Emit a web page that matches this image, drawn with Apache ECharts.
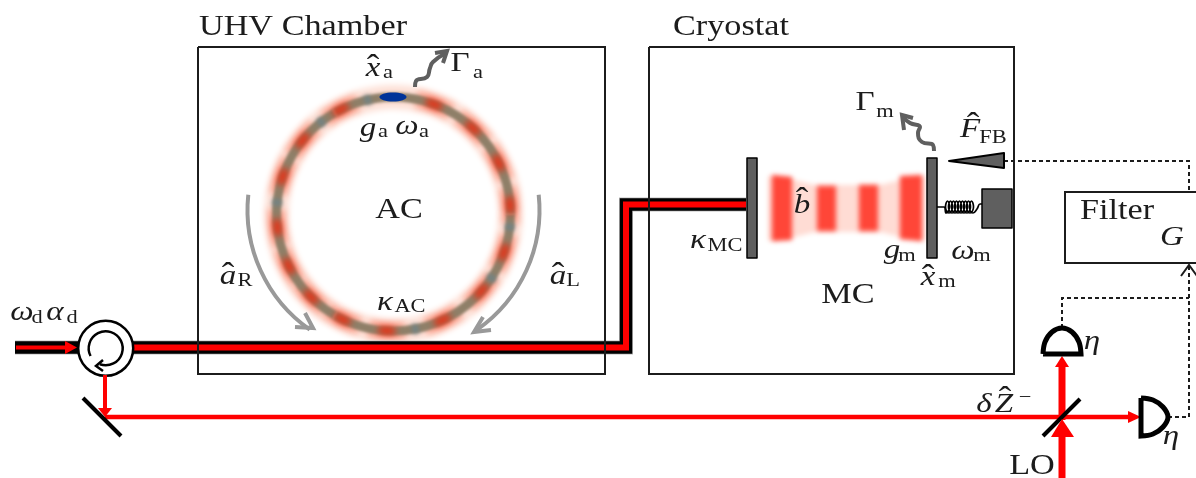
<!DOCTYPE html>
<html><head><meta charset="utf-8">
<style>html,body{margin:0;padding:0;background:#fff}#c{width:1196px;height:478px}</style>
<script src="https://cdn.jsdelivr.net/npm/echarts@6/dist/echarts.min.js"></script>
</head><body><div id="c"></div>
<script>
// ---- picture readings (x, y in picture pixels) ----
const ringCentre = [393.5, 214], ringRadius = 117;
const ringAntinodes = [[278,175],[302,140],[340,108],[433,107],[473,128],[498,163],[511,205],[503,252],[480,290],[441,317],[387,328],[343,318],[310,298],[285,268],[273,228]];
const ringNodes = [[273,202],[318,118],[367,97],[510,227],[490,277],[415,327]];
const chamberBox = [[198,47],[605,47],[605,374],[198,374],[198,47]];
const cryostatBox = [[649,47],[1014,47],[1014,374],[649,374],[649,47]];
const filterBox = [[1198,192],[1065,192],[1065,263],[1198,263]];
const wireIn = [[15,347.5],[80,347.5]];
const wireMain = [[130,347.5],[626,347.5],[626,204.5],[746,204.5]];
const beamIn = [[16,347.5],[68,347.5]];
const beamInHead = [[65,341],[77,347.5],[65,354]];
const beamDown = [[105,375],[105,408]];
const beamDownHead = [[98,408],[105,417],[112,408]];
const beamReturn = [[105,417],[1130,417]];
const beamReturnHead = [[1128,411],[1141,417],[1128,423]];
const beamLO = [[1062,478],[1062,430]];
const beamLOHead = [[1051,437],[1062,419],[1074,437],[1068,437],[1056,437]];
const beamUp = [[1062,420],[1062,365]];
const beamUpHead = [[1055,367],[1062,356],[1069,367]];
const mirrorFold = [[83,398],[121,436]];
const splitter = [[1043,436],[1080,399]];
const detectorTop = [[1043,354],[1045,342],[1052,332],[1062,328],[1072,332],[1079,342],[1081,354],[1043,354]];
const detectorRight = [[1141,398],[1153,400],[1163,407],[1168,417],[1163,427],[1153,434],[1141,436],[1141,398]];
const dashFeedback = [[1004,161],[1189,161],[1189,192]];
const dashTop = [[1062,328],[1062,298],[1189,298]];
const dashRight = [[1168,417],[1189,417],[1189,266]];
const filterArrow = [[1181,276],[1189,265],[1197,276]];
const travelCentre = [393.5, 210], travelRadius = 146;
const arcLeftDegrees = [125, 186];
const arcRightDegrees = [-6, 55];
const arcLeftHead = [[305,313],[313,328],[295,327]];
const arcRightHead = [[483,317],[474,332],[491,330]];
const waveA = [[415,87],[416,81],[427,77],[430,68],[433,62],[446,53]];
const waveAHead = [[435,53],[447,51],[443,63]];
const waveM = [[934,151],[933,145],[922,142],[918,133],[920,127],[910,123],[903,117]];
const waveMHead = [[913,118],[902,115],[904,130]];
const mirrorA = [[747,158],[757,158],[757,258],[747,258]];
const mirrorB = [[927,158],[937,158],[937,258],[927,258]];
const massBlock = [[982,189],[1012,189],[1012,228],[982,228]];
const feedbackWedge = [[949,161],[1004,153],[1004,168]];
const spring = [[937,207],[944,207],[946,213],[949.5,207],[947.5,201],[945.5,207],[949,213],[952.5,207],[950.5,201],[948.5,207],[952,213],[955.5,207],[953.5,201],[951.5,207],[955,213],[958.5,207],[956.5,201],[954.5,207],[958,213],[961.5,207],[959.5,201],[957.5,207],[961,213],[964.5,207],[962.5,201],[960.5,207],[964,213],[967.5,207],[965.5,201],[963.5,207],[967,213],[970.5,207],[968.5,201],[966.5,207],[970,213],[973.5,207],[971.5,201],[969.5,207],[973,213],[977,209],[980,204],[982,204]];
const fieldHalo = [[768,176],[795,180],[815,185],[880,185],[900,180],[925,176],[925,241],[900,237],[880,232],[815,232],[795,237],[768,241]];
const fieldBars = [[[772,175],[792,177],[792,240],[772,241]],[[817,186],[836,186],[836,231],[817,231]],[[859,185],[878,185],[878,231],[859,231]],[[900,176],[922,175],[922,241],[900,239]]];
const circulatorCentre = [105.7, 348.3];
const circulatorHead = [[103,360],[96,366],[103,371]];
const dipole = [393, 97];

const textRoman = [["UHV Chamber",303,27,29],["Cryostat",731,27,29],["AC",399,210,29],["MC",848,295,29],["Filter",1117,211,29],["LO",1032,466,29],["Γ",460,64,28],["Γ",865,103,28]];
const textItalic = [["x",373,69,28],["g",368,129,28],["ω",407,127,28],["κ",385,303,28],["a",228,277,28],["a",558,277,28],["κ",698,241,28],["b",802,206,28],["F",970,130,28],["g",892,251,28],["ω",963,252,28],["x",928,278,28],["ω",22,313,28],["α",55,313,28],["η",1092,342,28],["η",1171,437,28],["δ",984,405,28],["Z",1004,405,28],["G",1172,238,28]];
const textSub = [["a",388,73],["a",478,73],["a",383,132],["a",424,132],["AC",410,307],["R",245,281],["L",573,281],["MC",725,246],["m",885,112],["FB",993,138],["m",907,256],["m",982,256],["m",947,282],["d",37,318],["d",72,318],["−",1025,398]];
const textHat = [[373,55],[228,263],[558,263],[802,188],[973,113],[928,265],[1005,387]];

// ---- helpers ----
const ink = '#1c1c1c', red = '#ff0000', grey = '#999999', dark = '#5f5f5f';
const FAR = 3000;
const rad = d => d*Math.PI/180;
const series = [];
const add = s => { s.z = series.length + 2; series.push(s); };
function path(data, color, width, extra) {
  add(Object.assign({type:'line', data, symbol:'none', silent:true, animation:false, clip:false,
    lineStyle:{color, width, cap:'butt', join:'miter', type:(extra&&extra.dash)||'solid'}}, extra&&extra.smooth?{smooth:extra.smooth}:{}));
}
function poly(points, fill, stroke, lw, blur) {
  add({type:'custom', data:[[0,0]], silent:true, animation:false, clip:false,
    renderItem:(p, api) => {
      const pts = points.map(q => api.coord(q));
      if (blur) {
        return {type:'polygon', shape:{points:pts.map(q => [q[0]-FAR,q[1]])},
          style:{fill, shadowBlur:blur, shadowColor:fill, shadowOffsetX:FAR}};
      }
      return {type:'polygon', shape:{points:pts}, style:{fill, stroke:stroke||'none', lineWidth:lw||0, lineJoin:'round'}};
    }});
}
function arcs(list, color, width, blur) {
  add({type:'custom', data:list.map((a,i)=>[i,0]), silent:true, animation:false, clip:false,
    renderItem:(p, api) => {
      const a = list[p.dataIndex], c = api.coord(ringCentre), r = Math.abs(api.size([ringRadius,0])[0]);
      return {type:'arc', shape:{cx:c[0]-FAR, cy:c[1], r, startAngle:rad(a[0]), endAngle:rad(a[1]), clockwise:true},
        style:{fill:'none', stroke:color, lineWidth:width, lineCap:'butt', shadowBlur:blur, shadowColor:color, shadowOffsetX:FAR}};
    }});
}
function sweep(deg, color, width) {
  add({type:'custom', data:[[0,0]], silent:true, animation:false, clip:false,
    renderItem:(p, api) => {
      const c = api.coord(travelCentre), r = Math.abs(api.size([travelRadius,0])[0]);
      return {type:'arc', shape:{cx:c[0], cy:c[1], r, startAngle:rad(deg[0]), endAngle:rad(deg[1]), clockwise:true},
        style:{fill:'none', stroke:color, lineWidth:width}};
    }});
}
const wholeRing = [[0,120],[120,240],[240,360]];
const angleOf = q => Math.atan2(q[1]-ringCentre[1], q[0]-ringCentre[0])*180/Math.PI;
const around = (pts, half) => pts.map(q => [angleOf(q)-half, angleOf(q)+half]);
function texts(items, font, dy) {
  add({type:'custom', data:items.map((t,i)=>[i,0]), silent:true, animation:false, clip:false,
    renderItem:(p, api) => {
      const t = items[p.dataIndex], c = api.coord([t[1],t[2]]);
      return {type:'text', x:c[0], y:c[1]+(dy||0), scaleX:1.18, style:{text:t[0], x:0, y:0, fill:ink, align:'center', verticalAlign:'middle', font:font(t)}};
    }});
}

// ---- ring ----
arcs(wholeRing, '#fde0d6', 24, 6);
arcs(around(ringAntinodes,9), '#fba895', 17, 6);
arcs(wholeRing, '#8f7f68', 9, 3);
arcs(around(ringAntinodes,4), '#ee2c10', 8, 7);
arcs(around(ringNodes,1.5), '#6f8488', 9, 5);
add({type:'custom', data:[[0,0]], silent:true, animation:false, clip:false,
  renderItem:(p, api) => { const c = api.coord(dipole);
    return {type:'ellipse', shape:{cx:c[0], cy:c[1], rx:13.5, ry:4.5}, style:{fill:'#003399'}}; }});

// ---- cavity field ----
poly(fieldHalo, '#ffdcd4', null, 0, 5);
fieldBars.forEach(b => poly(b, '#ff4638', null, 0, 5));

// ---- wires ----
path(wireIn, '#bbbbbb', 14); path(wireMain, '#bbbbbb', 14);
path(wireIn, '#000000', 12.5); path(wireMain, '#000000', 12.5);
path(wireMain, red, 6);
path(beamIn, red, 4); poly(beamInHead, red);
// ---- boxes ----
path(chamberBox, ink, 2); path(cryostatBox, ink, 2); path(filterBox, ink, 2);
// ---- circulator ----
add({type:'custom', data:[[0,0]], silent:true, animation:false, clip:false,
  renderItem:(p, api) => { const c = api.coord(circulatorCentre);
    return {type:'group', children:[
      {type:'circle', shape:{cx:c[0], cy:c[1], r:27.5}, style:{fill:'#fff', stroke:'#000', lineWidth:2.5}},
      {type:'arc', shape:{cx:c[0], cy:c[1], r:17, startAngle:rad(153), endAngle:rad(470), clockwise:true}, style:{fill:'none', stroke:'#000', lineWidth:2.5}}
    ]}; }});
path(circulatorHead, '#000', 2.5);
// ---- return beam ----
path(beamDown, red, 4); poly(beamDownHead, red);
path(beamReturn, red, 4.5); poly(beamReturnHead, red);
path(beamUp, red, 7); poly(beamUpHead, red);
path(beamLO, red, 7);
path(mirrorFold, '#000', 4);
path(splitter, '#000', 4);
poly(beamLOHead, red);
// ---- detectors and feedback ----
path(dashFeedback, ink, 2, {dash:[4,3]}); path(dashTop, ink, 2, {dash:[4,3]}); path(dashRight, ink, 2, {dash:[4,3]});
path(filterArrow, ink, 2);
path(detectorTop, '#000', 5, {smooth:0.35});
path(detectorRight, '#000', 5, {smooth:0.35});
// ---- arrows ----
sweep(arcLeftDegrees, grey, 4); path(arcLeftHead, grey, 4);
sweep(arcRightDegrees, grey, 4); path(arcRightHead, grey, 4);
path(waveA, dark, 4, {smooth:0.5}); path(waveAHead, dark, 4);
path(waveM, dark, 4, {smooth:0.5}); path(waveMHead, dark, 4);
// ---- mechanics ----
poly(mirrorA, dark, '#000', 1.5); poly(mirrorB, dark, '#000', 1.5);
poly(massBlock, dark, '#000', 1.5); poly(feedbackWedge, dark, '#000', 2);
path(spring, '#000', 1.7, {smooth:0.5});
// ---- text ----
const serif = '"Liberation Serif","Times New Roman",serif';
texts(textRoman, t => `${t[3]}px ${serif}`);
texts(textItalic, t => `italic ${t[3]}px ${serif}`);
texts(textSub, t => `19px ${serif}`);
texts(textHat.map(q => ['ˆ',q[0],q[1]]), t => `32px ${serif}`, 13);

const chart = echarts.init(document.getElementById('c'), null, {renderer:'canvas'});
chart.setOption({animation:false, backgroundColor:'#fff',
  grid:{left:0,right:0,top:0,bottom:0},
  xAxis:{type:'value',min:0,max:1196,show:false},
  yAxis:{type:'value',min:0,max:478,inverse:true,show:false},
  series});
</script></body></html>
